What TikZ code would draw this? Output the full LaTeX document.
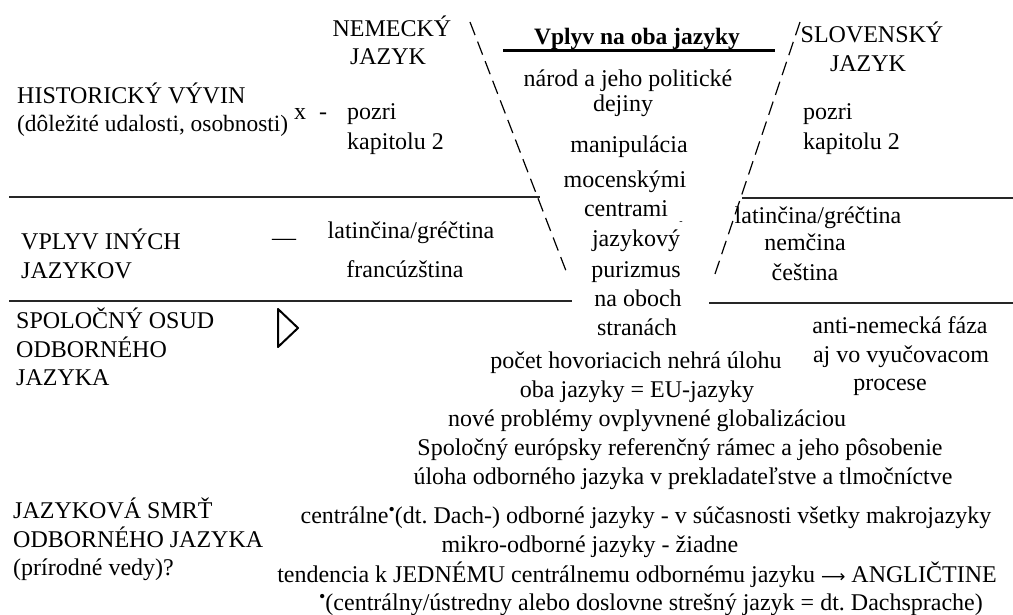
\documentclass[tikz,border=0pt]{standalone}
\usepackage{fontspec}
\setmainfont{Liberation Serif}
\newfontfamily\arrowfont{DejaVu Sans}
\frenchspacing
\newcommand{\supbul}{\raisebox{8pt}{\fontsize{18}{18}\selectfont •}}
\begin{document}
\begin{tikzpicture}[x=1pt,y=-1pt,
  txt/.style={inner sep=0pt,font=\fontsize{24}{28}\selectfont},
  txtl/.style={txt,anchor=base west},
  txtc/.style={txt,anchor=base},
  rule/.style={line width=1.5pt,black!85},
  funnel/.style={line width=1.2pt,dash pattern=on 14pt off 7pt}]
\useasboundingbox (0,0) rectangle (1013,615);
% horizontal rules
\draw[rule] (9,197) -- (540,197);
\draw[rule] (742,198) -- (1013,198);
\draw[rule] (9,301) -- (572,301);
\draw[rule] (709,303) -- (1013,303);
% dashed funnel
\coordinate (lt) at (470,22); \coordinate (lb) at (568,276);
\coordinate (rt) at (800,22); \coordinate (rb) at (715,274);
\draw[funnel] (lt) -- (lb);
\draw[funnel] (rt) -- (rb);
% title
\node[txtc,font=\fontsize{23.5}{28}\selectfont\bfseries] (title) at (637,45) {Vplyv na oba jazyky};
\draw[line width=2.5pt] (503,50.5) -- (775,50.5);
% left column
\node[txtc] (nem1) at (392,37) {NEMECKÝ};
\node[txtc] (nem2) at (388,65) {JAZYK};
\node[txtl] (hist1) at (17,104) {HISTORICKÝ VÝVIN};
\node[txtl,font=\fontsize{23.4}{28}\selectfont] (hist2) at (17,132) {(dôležité udalosti, osobnosti)};
\node[txtc] (xx) at (300,120) {x};
\node[txtc] (hy) at (323,120) {-};
\node[txtl] (poz1) at (347,120) {pozri};
\node[txtl] (kap1) at (347,150) {kapitolu 2};
\node[txtl] (vpl1) at (21,250) {VPLYV INÝCH};
\node[txtl] (vpl2) at (21,278) {JAZYKOV};
\node[txtc] (emd) at (284,245) {—};
\node[txtc] (lat1) at (411,238) {latinčina/gréčtina};
\node[txtc] (fra) at (405,277) {francúzština};
% middle column
\node[txtc] (m1) at (628,87) {národ a jeho politické};
\node[txtc] (m2) at (623,112) {dejiny};
\node[txtc] (m3) at (629,153) {manipulácia};
\node[txtc] (m4) at (625,188) {mocenskými};
\node[txtc] (m5) at (626,217) {centrami};
\node[txt,font=\fontsize{10}{12}\selectfont] (dot) at (681,223) {-};
\node[txtc] (m6) at (636,247) {jazykový};
\node[txtc] (m7) at (636,277) {purizmus};
\node[txtc] (m8) at (638,306) {na oboch};
\node[txtc] (m9) at (637,335) {stranách};
% right column
\node[txtc] (slo1) at (872,43) {SLOVENSKÝ};
\node[txtc] (slo2) at (868,72) {JAZYK};
\node[txtl] (poz2) at (803,120) {pozri};
\node[txtl] (kap2) at (803,150) {kapitolu 2};
\node[txtc] (lat2) at (818,223) {latinčina/gréčtina};
\node[txtc] (nemc) at (805,251) {nemčina};
\node[txtc] (ces) at (805,280) {čeština};
\node[txtc] (anti1) at (900,333) {anti-nemecká fáza};
\node[txtc] (anti2) at (901,362) {aj vo vyučovacom};
\node[txtc] (anti3) at (890,390) {procese};
% third row
\node[txtl] (spo1) at (16,328) {SPOLOČNÝ OSUD};
\node[txtl] (spo2) at (16,357) {ODBORNÉHO};
\node[txtl] (spo3) at (16,385) {JAZYKA};
\draw[line width=2pt,line join=round] (278,309) -- (298,328) -- (278,347) -- cycle;
\node[txtc] (b1) at (636,368) {počet hovoriacich nehrá úlohu};
\node[txtc] (b2) at (637,397) {oba jazyky = EU-jazyky};
\node[txtc] (b3) at (647,426) {nové problémy ovplyvnené globalizáciou};
\node[txtc] (b4) at (680,455) {Spoločný európsky referenčný rámec a jeho pôsobenie};
\node[txtc] (b5) at (683,484) {úloha odborného jazyka v prekladateľstve a tlmočníctve};
% fourth row
\node[txtl] (sm1) at (13,518) {JAZYKOVÁ SMRŤ};
\node[txtl] (sm2) at (13,547) {ODBORNÉHO JAZYKA};
\node[txtl] (sm3) at (13,575) {(prírodné vedy)?};
\node[txtc] (c1) at (646,523) {centrálne\supbul(dt. Dach-) odborné jazyky - v súčasnosti všetky makrojazyky};
\node[txtc] (c2) at (590,552) {mikro-odborné jazyky - žiadne};
\node[txtc] (c3) at (637,582) {tendencia k JEDNÉMU centrálnemu odbornému jazyku {\arrowfont\fontsize{17}{17}\selectfont ⟶} ANGLIČTINE};
\node[txtc] (c4) at (651,610) {\supbul(centrálny/ústredny alebo doslovne strešný jazyk = dt. Dachsprache)};
\end{tikzpicture}
\end{document}
